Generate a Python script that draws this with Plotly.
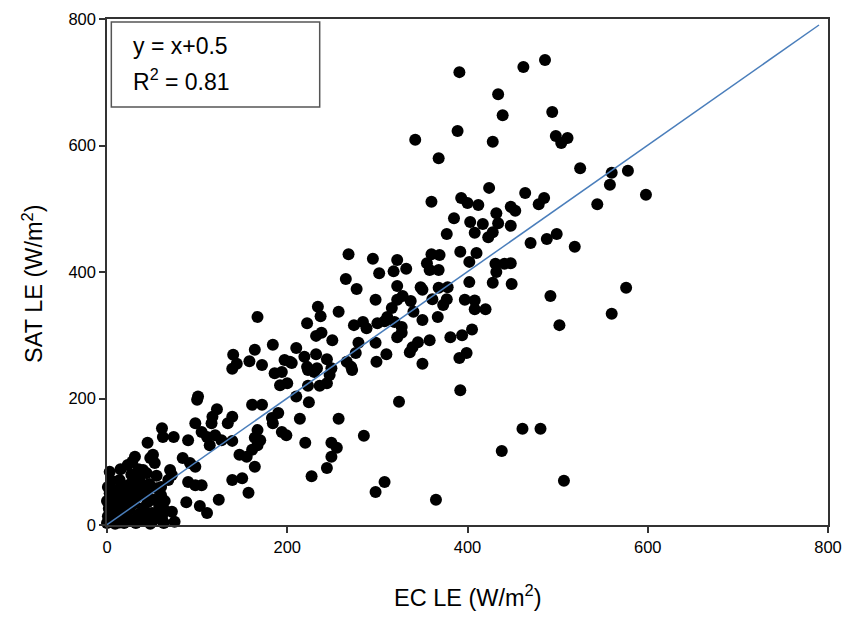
import plotly.graph_objects as go

# EC LE (x) and SAT LE (y), W/m2
ec_upper = [391, 462, 486, 389, 342, 368, 360, 393, 400, 434, 439, 494, 428, 498, 511, 504, 525, 560, 578, 558,
            598, 544, 424, 464, 485, 479, 412, 432, 448, 453]
sat_upper = [716, 724, 735, 623, 609, 580, 511, 517, 509, 681, 648, 653, 606, 615, 612, 604, 564, 557, 560, 538,
             522, 507, 533, 525, 517, 507, 506, 493, 503, 497]

ec_right = [417, 434, 448, 428, 423, 408, 470, 488, 499, 519, 410, 431, 441, 448, 432, 428, 449, 492, 576, 560,
            502, 420, 408, 408, 405, 461, 481, 438, 507]
sat_right = [476, 477, 473, 463, 455, 462, 446, 452, 460, 440, 430, 413, 413, 414, 400, 383, 381, 362, 375, 334,
             316, 341, 341, 355, 309, 152, 152, 117, 70]

ec_mid_low = [392, 324, 257, 214, 199, 220, 249, 255, 249, 244, 285, 227, 308, 298, 365, 200, 210, 224, 223, 236,
              244, 247, 272, 223, 230]
sat_mid_low = [213, 195, 168, 168, 142, 130, 130, 122, 108, 90, 141, 77, 68, 52, 40, 224, 203, 194, 220, 220,
               224, 237, 245, 245, 242]

ec_mid = [385, 403, 377, 268, 295, 322, 360, 369, 392, 402, 355, 302, 318, 332, 358, 368, 265, 277, 322, 348,
          350, 368, 378, 402, 298, 328, 322, 337, 361, 377, 373, 397, 234, 237, 257, 316, 311, 340, 222, 274,
          284, 288, 300, 308, 319, 327, 350, 367, 232, 238, 250, 279, 298, 322, 327, 345, 339, 358, 336, 381,
          394, 210, 232, 219, 203, 244, 276, 299, 310, 266, 271, 222, 233, 249, 350, 391, 399, 197, 205]
sat_mid = [485, 479, 460, 428, 421, 419, 428, 427, 432, 416, 414, 398, 401, 405, 403, 403, 389, 373, 378, 376,
           372, 375, 376, 384, 356, 362, 356, 354, 357, 357, 348, 356, 345, 330, 337, 343, 329, 337, 319, 316,
           321, 311, 319, 322, 321, 313, 324, 329, 299, 304, 292, 288, 288, 297, 304, 289, 281, 292, 273, 297,
           300, 280, 270, 266, 258, 262, 272, 258, 270, 258, 250, 250, 248, 248, 255, 264, 272, 261, 256]

ec_low = [167, 184, 140, 164, 158, 172, 144, 139, 186, 194, 101, 100, 192, 161, 172, 190, 183, 184, 194, 122,
          117, 116, 139, 134, 98, 167, 164, 170, 61, 62, 74, 90, 105, 111, 120, 127, 114, 139, 45, 147,
          161, 167, 155, 164, 84, 92, 98, 70, 72, 68, 48, 51, 53, 40, 44, 28, 31, 3, 14, 17,
          90, 98, 105, 139, 150, 157, 124, 88, 103, 111, 72, 75, 61, 62]
sat_low = [329, 285, 269, 277, 259, 253, 255, 247, 240, 242, 203, 198, 221, 190, 190, 177, 169, 161, 147, 183,
           171, 161, 171, 161, 161, 150, 138, 134, 153, 139, 139, 134, 147, 139, 142, 134, 126, 133, 130, 111,
           119, 126, 108, 92, 106, 98, 92, 87, 79, 71, 106, 111, 98, 87, 82, 100, 108, 84, 71, 63,
           68, 63, 63, 71, 74, 51, 40, 36, 30, 19, 21, 5, 13, 5]

ec_blob = [0, 1, 2, 0, 3, 1, 5, 6, 7, 3, 9, 10, 12, 10, 14, 12, 14, 16, 17, 19, 21, 22, 24, 26, 20, 28, 25, 30,
           27, 23, 32, 35, 34, 38, 40, 42, 36, 44, 45, 35, 48, 50, 52, 55, 57, 58, 60, 47, 55, 63, 65, 64, 60,
           7, 18, 31, 40, 50, 28, 15]
sat_blob = [3, 14, 26, 38, 50, 60, 70, 33, 20, 8, 2, 12, 24, 45, 56, 37, 4, 17, 30, 3, 14, 40, 52, 65, 48, 8, 24,
            34, 80, 95, 3, 17, 45, 58, 27, 7, 72, 50, 36, 88, 2, 19, 40, 58, 11, 29, 47, 65, 78, 3, 22, 38, 60,
            55, 62, 56, 14, 5, 44, 88]

ec_le = ec_upper + ec_right + ec_mid_low + ec_mid + ec_low + ec_blob
sat_le = sat_upper + sat_right + sat_mid_low + sat_mid + sat_low + sat_blob

# fitted line y = x + 0.5
slope, intercept = 1.0, 0.5
fit_x = [0, 790]
fit_y = [slope * v + intercept for v in fit_x]

tick_vals = [0, 200, 400, 600, 800]
tick_text = ["0", "200", "400", "600", "800"]

fig = go.Figure()
fig.add_trace(go.Scatter(x=ec_le, y=sat_le, mode="markers",
                         marker=dict(size=12, color="black", line=dict(width=0)),
                         showlegend=False, cliponaxis=False))
fig.add_trace(go.Scatter(x=fit_x, y=fit_y, mode="lines",
                         line=dict(color="#4a7ebb", width=1.5), showlegend=False))

axis_common = dict(range=[0, 800], tickvals=tick_vals, ticktext=tick_text, ticks="outside", ticklen=6,
                   tickwidth=1.5, tickcolor="#333", showline=True, linecolor="#333", linewidth=1.5,
                   mirror=True, showgrid=False, zeroline=False, automargin=False,
                   tickfont=dict(family="Liberation Sans, Arial", size=16.5, color="black"))

fig.update_xaxes(**axis_common)
fig.update_yaxes(**axis_common)

title_font = dict(family="Liberation Sans, Arial", size=23.5, color="black")
fig.add_annotation(xref="paper", yref="paper", x=0.5, y=-0.141, xanchor="center", yanchor="middle",
                   text="EC LE (W/m<sup>2</sup>)", showarrow=False, font=title_font, borderpad=0)
fig.add_annotation(xref="paper", yref="paper", x=-0.103, y=0.476, xanchor="center", yanchor="middle",
                   text="SAT LE (W/m<sup>2</sup>)", showarrow=False, textangle=-90, font=title_font)

fig.add_shape(type="rect", xref="paper", yref="paper", x0=0.006, x1=0.295, y0=0.826, y1=0.994,
              line=dict(color="#555", width=1.5), fillcolor="white", layer="above")
fig.add_annotation(xref="paper", yref="paper", x=0.033, y=0.946, xanchor="left", yanchor="middle",
                   text="y = x+0.5", showarrow=False,
                   font=dict(family="Liberation Sans, Arial", size=23, color="black"))
fig.add_annotation(xref="paper", yref="paper", x=0.033, y=0.88, xanchor="left", yanchor="middle",
                   text="R<sup>2</sup> = 0.81", showarrow=False,
                   font=dict(family="Liberation Sans, Arial", size=23, color="black"))

fig.update_layout(width=848, height=618, margin=dict(l=107, r=20, t=19, b=93),
                  plot_bgcolor="white", paper_bgcolor="white")

# remove the default page margin so the 848x618 figure fills the window exactly; hide the modebar
fig.write_html("out.html", config={"displayModeBar": False},
               post_script="document.body.style.margin='0';document.body.style.overflow='hidden';")
